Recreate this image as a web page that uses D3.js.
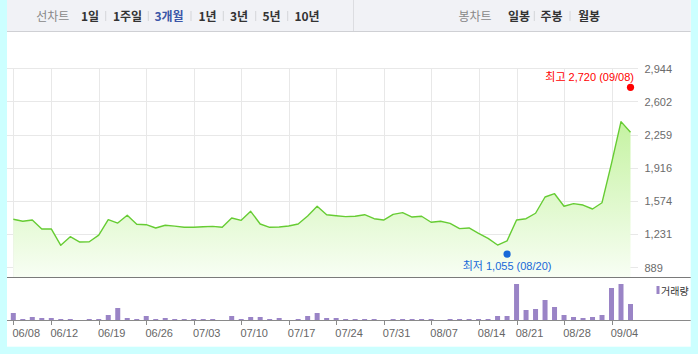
<!DOCTYPE html>
<html><head><meta charset="utf-8">
<script src="https://cdn.jsdelivr.net/npm/d3@7"></script>
<style>
html,body{margin:0;padding:0;background:#ccffff;}
svg{display:block;}
</style>
</head><body>
<svg id="chart" width="698" height="354"></svg>
<script>
// ---- data ----
const closes = [1385,1364,1377,1285,1285,1116,1205,1150,1153,1222,
  1381,1346,1426,1333,1329,1295,1323,1314,1302,1302,
  1308,1312,1302,1398,1374,1467,1336,1302,1305,1315,
  1336,1419,1519,1432,1422,1412,1416,1432,1391,1377,
  1436,1453,1408,1416,1354,1364,1343,1288,1295,1240,
  1188,1119,1162,1377,1391,1447,1615,1649,1519,1546,
  1532,1491,1556,1963,2393,2283];
const volumes = [70,10,30,20,20,10,10,0,10,10,
  50,120,20,10,40,10,20,10,10,10,
  10,10,0,40,10,30,30,10,20,0,
  10,40,70,20,20,10,10,10,10,0,
  10,10,10,10,10,0,10,10,10,10,
  10,40,40,360,100,110,200,130,50,30,
  20,30,50,320,360,160];
const tickLabels = ["06/08","06/12","06/19","06/26","07/03","07/10","07/17","07/24","07/31","08/07","08/14","08/21","08/28","09/04"];
const tickIndex = [0,4,9,14,19,24,29,34,39,44,49,53,58,63];
const yTicks = [889,1231,1574,1916,2259,2602,2944];
const highPoint = {index:65, value:2720, date:"09/08", name:"최고"};
const lowPoint = {index:52, value:1055, date:"08/20", name:"최저"};
const periodLabels = ["1일","1주일","3개월","1년","3년","5년","10년"];
const candleLabels = ["일봉","주봉","월봉"];
const activePeriod = "3개월";

// ---- layout ----
const svg = d3.select("#chart");
const left = 7, right = 690.7, topBarH = 31;
const plotTop = 68.3, plotBottom = 267.3, sepY = 277.5, volBase = 320, volTop = 284;
const fontLat = "'Liberation Sans', Arial, 'Noto Sans CJK KR', sans-serif";
const fontKr = "'Noto Sans CJK KR', 'Liberation Sans', sans-serif";

const x = d3.scaleLinear().domain([0, closes.length - 1]).range([13.3, 630.5]);
const y = d3.scaleLinear().domain([yTicks[0], yTicks[yTicks.length-1]]).range([plotBottom, plotTop]);
const yv = d3.scaleLinear().domain([0, 360]).range([volBase, volTop]);

// white panel
svg.append("rect").attr("x", left).attr("y", 0).attr("width", right-left).attr("height", 346.7).attr("fill", "#fff");

// top bar
svg.append("rect").attr("x", left).attr("y", 0).attr("width", right-left).attr("height", topBarH).attr("fill", "#f1f2f6");
svg.append("line").attr("x1", left).attr("x2", right).attr("y1", topBarH+0.5).attr("y2", topBarH+0.5).attr("stroke", "#cfd0d4");
svg.append("line").attr("x1", 353.5).attr("x2", 353.5).attr("y1", 0).attr("y2", topBarH).attr("stroke", "#dcdde1");

const tb = svg.append("g").attr("font-family", fontKr).attr("font-size", 12).attr("font-weight", "bold");
tb.append("text").attr("x", 52.8).attr("y", 20.5).attr("text-anchor", "middle").attr("fill", "#888").attr("font-weight","normal").text("선차트");
const periodCenters = [90, 127.5, 169, 207.5, 239, 271.5, 307];
const periodSeps = [105.7, 148.3, 191, 223.3, 255.7, 287.7];
periodLabels.forEach((t,i)=>{
  tb.append("text").attr("x", periodCenters[i]).attr("y", 20.5).attr("text-anchor","middle")
    .attr("fill", t===activePeriod ? "#3b56a8" : "#333").text(t);
});
periodSeps.forEach(sx=>{
  svg.append("line").attr("x1", sx).attr("x2", sx).attr("y1", 11).attr("y2", 21).attr("stroke", "#d4d5d9");
});
tb.append("text").attr("x", 475).attr("y", 20.5).attr("text-anchor","middle").attr("fill","#888").attr("font-weight","normal").text("봉차트");
const candleCenters = [519, 551.5, 589];
candleLabels.forEach((t,i)=>{
  tb.append("text").attr("x", candleCenters[i]).attr("y", 20.5).attr("text-anchor","middle").attr("fill","#333").text(t);
});
[534.3, 570].forEach(sx=>{
  svg.append("line").attr("x1", sx).attr("x2", sx).attr("y1", 11).attr("y2", 21).attr("stroke", "#d4d5d9");
});

// grid
const grid = svg.append("g").attr("stroke", "#e8e8e8").attr("stroke-width", 1);
yTicks.forEach(v=>{
  grid.append("line").attr("x1", left).attr("x2", 638).attr("y1", Math.round(y(v))+0.5).attr("y2", Math.round(y(v))+0.5);
});
tickIndex.forEach(i=>{
  const xx = Math.round(x(i)) + 0.5;
  grid.append("line").attr("x1", xx).attr("x2", xx).attr("y1", plotTop).attr("y2", sepY);
});

// gradient area
const defs = svg.append("defs");
const grad = defs.append("linearGradient").attr("id","areaGrad").attr("gradientUnits","userSpaceOnUse")
  .attr("x1",0).attr("x2",0).attr("y1",plotTop).attr("y2",sepY);
grad.append("stop").attr("offset","0%").attr("stop-color","#b4ef86");
grad.append("stop").attr("offset","100%").attr("stop-color","#f8fef4");

const area = d3.area().x((d,i)=>x(i)).y0(sepY).y1(d=>y(d));
svg.append("path").datum(closes).attr("d", area).attr("fill","url(#areaGrad)");
const line = d3.line().x((d,i)=>x(i)).y(d=>y(d));
svg.append("path").datum(closes).attr("d", line).attr("fill","none").attr("stroke","#66cc33").attr("stroke-width",1.4).attr("stroke-linejoin","round");

// separator + volume baseline
svg.append("line").attr("x1", left).attr("x2", right).attr("y1", sepY).attr("y2", sepY).attr("stroke","#7a7a7a").attr("stroke-width",1.2);
svg.append("line").attr("x1", left).attr("x2", right).attr("y1", volBase+0.5).attr("y2", volBase+0.5).attr("stroke","#8a8a8a").attr("stroke-width",1);

// volume bars
svg.append("g").selectAll("rect").data(volumes).join("rect")
  .attr("x", (d,i)=>x(i)-2.5).attr("width", 5)
  .attr("y", d=>yv(d)).attr("height", d=>volBase - yv(d))
  .attr("fill", "#9a84c6");

// legend
svg.append("rect").attr("x", 656.5).attr("y", 286).attr("width", 3).attr("height", 8).attr("fill", "#9a84c6");
svg.append("text").attr("x", 661).attr("y", 294.5).attr("font-family", fontKr).attr("font-size", 10).attr("fill","#333").text("거래량");

// x axis ticks + labels
const xa = svg.append("g");
tickIndex.forEach((idx,k)=>{
  const xx = Math.round(x(idx)) + 0.5;
  xa.append("line").attr("x1", xx).attr("x2", xx).attr("y1", volBase).attr("y2", volBase+5).attr("stroke","#8a8a8a");
  xa.append("text").attr("x", x(idx)-0.8).attr("y", 337).attr("font-family", fontLat).attr("font-size", 11).attr("fill","#666").text(tickLabels[k]);
});

// y axis labels
const fmt = d3.format(",");
yTicks.forEach(v=>{
  svg.append("text").attr("x", 644.5).attr("y", y(v)+4.3).attr("font-family", fontLat).attr("font-size", 11).attr("fill","#6b6b6b").text(fmt(v));
});

// high / low markers
svg.append("circle").attr("cx", x(highPoint.index)).attr("cy", y(highPoint.value)-2.7).attr("r", 3.6).attr("fill", "#ff0000");
svg.append("text").attr("x", x(highPoint.index)+3.5).attr("y", y(highPoint.value)-9)
  .attr("text-anchor","end").attr("font-family", fontLat).attr("font-size", 11).attr("fill","#ff0000")
  .text(`${highPoint.name} ${fmt(highPoint.value)} (${highPoint.date})`);
svg.append("circle").attr("cx", x(lowPoint.index)).attr("cy", y(lowPoint.value)+2.8).attr("r", 3.6).attr("fill", "#1668d8");
svg.append("text").attr("x", x(lowPoint.index)).attr("y", y(lowPoint.value)+18.5)
  .attr("text-anchor","middle").attr("font-family", fontLat).attr("font-size", 11).attr("fill","#1668d8")
  .text(`${lowPoint.name} ${fmt(lowPoint.value)} (${lowPoint.date})`);
</script>
</body></html>
